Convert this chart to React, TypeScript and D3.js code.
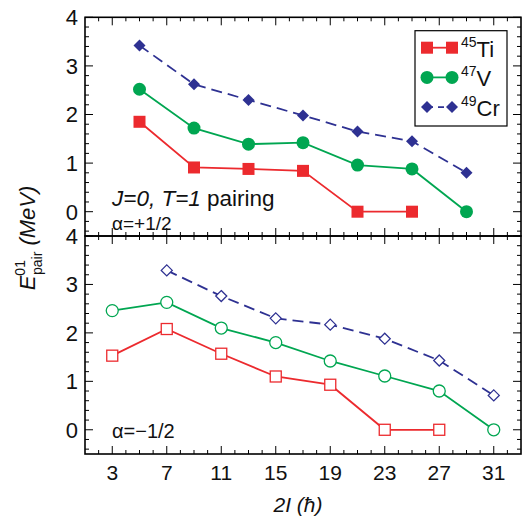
import React from "react";
import * as d3 from "d3";

// Spin values 2I for each signature branch
const spinPlus = [5, 9, 13, 17, 21, 25, 29];
const spinMinus = [3, 7, 11, 15, 19, 23, 27, 31];

// alpha = +1/2 pairing energies (MeV)
const tiPlus = [1.85, 0.91, 0.88, 0.84, 0, 0];
const vPlus = [2.52, 1.72, 1.39, 1.42, 0.96, 0.88, 0];
const crPlus = [3.42, 2.62, 2.3, 1.98, 1.65, 1.45, 0.8];

// alpha = -1/2 pairing energies (MeV)
const tiMinus = [1.53, 2.08, 1.57, 1.1, 0.93, 0, 0];
const vMinus = [2.46, 2.63, 2.1, 1.8, 1.42, 1.11, 0.8, 0];
const crMinusSpins = [7, 11, 15, 19, 23, 27, 31];
const crMinus = [3.29, 2.76, 2.3, 2.17, 1.88, 1.43, 0.71];

const xTicks = [3, 7, 11, 15, 19, 23, 27, 31];
const yTicks = [0, 1, 2, 3, 4];

const RED = "#ec2a2e";
const GREEN = "#00a651";
const BLUE = "#2e3192";
const FONT = "Liberation Sans, Arial, Helvetica, sans-serif";

const left = 85;
const right = 521;
const topPanel = { top: 17.3, bottom: 236 };
const botPanel = { top: 236, bottom: 454 };

const x = d3.scaleLinear().domain([1, 33]).range([left, right]);

type Series = { xs: number[]; ys: number[]; color: string; shape: "square" | "circle" | "diamond"; dashed: boolean };

function Marker({ cx, cy, shape, color, open }: { cx: number; cy: number; shape: string; color: string; open: boolean }) {
  const fill = open ? "#fff" : color;
  const sw = open ? 1.3 : 0;
  if (shape === "square") {
    const s = open ? 11 : 12;
    return <rect x={cx - s / 2} y={cy - s / 2} width={s} height={s} fill={fill} stroke={color} strokeWidth={sw} />;
  }
  if (shape === "circle") {
    return <circle cx={cx} cy={cy} r={open ? 6 : 6.5} fill={fill} stroke={color} strokeWidth={sw} />;
  }
  const d = open ? 5.5 : 6;
  return (
    <path
      d={`M${cx},${cy - d}L${cx + d},${cy}L${cx},${cy + d}L${cx - d},${cy}Z`}
      fill={fill}
      stroke={color}
      strokeWidth={sw}
    />
  );
}

function Panel({ top, bottom, series, open }: { top: number; bottom: number; series: Series[]; open: boolean }) {
  const y = d3.scaleLinear().domain([-0.5, 4]).range([bottom, top]);
  const line = d3
    .line<[number, number]>()
    .x((d) => x(d[0]))
    .y((d) => y(d[1]));
  const minorX = d3.range(2, 33, 1).filter((v) => !xTicks.includes(v));
  const minorY = d3.range(-0.4, 4, 0.2).map((v) => +v.toFixed(1)).filter((v) => Math.abs(v - Math.round(v)) > 0.01);
  const major = 8;
  const minor = 4;
  return (
    <g>
      {xTicks.map((t) => (
        <g key={"xm" + t}>
          <line x1={x(t)} x2={x(t)} y1={bottom} y2={bottom - major} stroke="#000" strokeWidth={1} />
          <line x1={x(t)} x2={x(t)} y1={top} y2={top + major} stroke="#000" strokeWidth={1} />
        </g>
      ))}
      {minorX.map((t) => (
        <g key={"xn" + t}>
          <line x1={x(t)} x2={x(t)} y1={bottom} y2={bottom - minor} stroke="#000" strokeWidth={1} />
          <line x1={x(t)} x2={x(t)} y1={top} y2={top + minor} stroke="#000" strokeWidth={1} />
        </g>
      ))}
      {yTicks.map((t) => (
        <g key={"ym" + t}>
          <line x1={left} x2={left + major} y1={y(t)} y2={y(t)} stroke="#000" strokeWidth={1} />
          <line x1={right} x2={right - major} y1={y(t)} y2={y(t)} stroke="#000" strokeWidth={1} />
          <text x={78} y={y(t) + 7.8} textAnchor="end" fontSize={22} fontFamily={FONT} fill="#111">
            {t}
          </text>
        </g>
      ))}
      {minorY.map((t) => (
        <g key={"yn" + t}>
          <line x1={left} x2={left + minor} y1={y(t)} y2={y(t)} stroke="#000" strokeWidth={1} />
          <line x1={right} x2={right - minor} y1={y(t)} y2={y(t)} stroke="#000" strokeWidth={1} />
        </g>
      ))}
      {series.map((s, i) => {
        const pts = s.xs.map((v, j) => [v, s.ys[j]] as [number, number]);
        return (
          <g key={i}>
            <path
              d={line(pts) || ""}
              fill="none"
              stroke={s.color}
              strokeWidth={1.8}
              strokeDasharray={s.dashed ? "11,6" : undefined}
            />
            {pts.map((p, j) => (
              <Marker key={j} cx={x(p[0])} cy={y(p[1])} shape={s.shape} color={s.color} open={open} />
            ))}
          </g>
        );
      })}
      <rect x={left} y={top} width={right - left} height={bottom - top} fill="none" stroke="#000" strokeWidth={1.6} />
    </g>
  );
}

export default function App() {
  const plusSeries: Series[] = [
    { xs: spinPlus.slice(0, tiPlus.length), ys: tiPlus, color: RED, shape: "square", dashed: false },
    { xs: spinPlus, ys: vPlus, color: GREEN, shape: "circle", dashed: false },
    { xs: spinPlus, ys: crPlus, color: BLUE, shape: "diamond", dashed: true },
  ];
  const minusSeries: Series[] = [
    { xs: spinMinus.slice(0, tiMinus.length), ys: tiMinus, color: RED, shape: "square", dashed: false },
    { xs: spinMinus, ys: vMinus, color: GREEN, shape: "circle", dashed: false },
    { xs: crMinusSpins, ys: crMinus, color: BLUE, shape: "diamond", dashed: true },
  ];
  const legend = [
    { mass: "45", el: "Ti", color: RED, shape: "square", dashed: false },
    { mass: "47", el: "V", color: GREEN, shape: "circle", dashed: false },
    { mass: "49", el: "Cr", color: BLUE, shape: "diamond", dashed: true },
  ];
  return (
    <svg
      width={522}
      height={521}
      style={{ position: "absolute", left: 0, top: 0, background: "#fff" }}
      fontFamily={FONT}
    >
      <Panel top={topPanel.top} bottom={topPanel.bottom} series={plusSeries} open={false} />
      <Panel top={botPanel.top} bottom={botPanel.bottom} series={minusSeries} open={true} />

      {/* legend */}
      <rect x={415} y={30.7} width={92} height={95.3} fill="#fff" stroke="#000" strokeWidth={1.2} />
      {legend.map((l, i) => {
        const ly = 47.7 + i * 29.7;
        return (
          <g key={l.el}>
            <line
              x1={427}
              x2={452}
              y1={ly}
              y2={ly}
              stroke={l.color}
              strokeWidth={1.8}
              strokeDasharray={l.dashed ? "6,5" : undefined}
            />
            <Marker cx={427} cy={ly} shape={l.shape} color={l.color} open={false} />
            <Marker cx={452} cy={ly} shape={l.shape} color={l.color} open={false} />
            <text x={461} y={ly + 9} fontSize={22} fill="#111">
              <tspan fontSize={14} dy={-10}>
                {l.mass}
              </tspan>
              <tspan dy={10}>{l.el}</tspan>
            </text>
          </g>
        );
      })}

      {/* annotations */}
      <text x={112} y={206} fontSize={22.5} fill="#111">
        <tspan fontStyle="italic">J=0, T=1</tspan>
        <tspan> pairing</tspan>
      </text>
      <text x={112} y={230} fontSize={19} fill="#111">
        α=+1/2
      </text>
      <text x={112} y={438} fontSize={20} fill="#111">
        α=−1/2
      </text>

      {/* x tick labels */}
      {xTicks.map((t) => (
        <text key={t} x={x(t)} y={480} textAnchor="middle" fontSize={21} fill="#111">
          {t}
        </text>
      ))}
      <text x={298} y={512} textAnchor="middle" fontSize={21} fontStyle="italic" fill="#111">
        2I (ħ)
      </text>

      {/* y axis title */}
      <text transform="translate(35,238) rotate(-90)" textAnchor="middle" fontSize={22} fill="#111">
        <tspan fontStyle="italic">E</tspan>
        <tspan fontSize={14} dy={-10}>
          01
        </tspan>
        <tspan fontSize={14} dx={-15} dy={17}>
          pair
        </tspan>
        <tspan dy={-7} fontStyle="italic">
          {"  (MeV)"}
        </tspan>
      </text>
    </svg>
  );
}
